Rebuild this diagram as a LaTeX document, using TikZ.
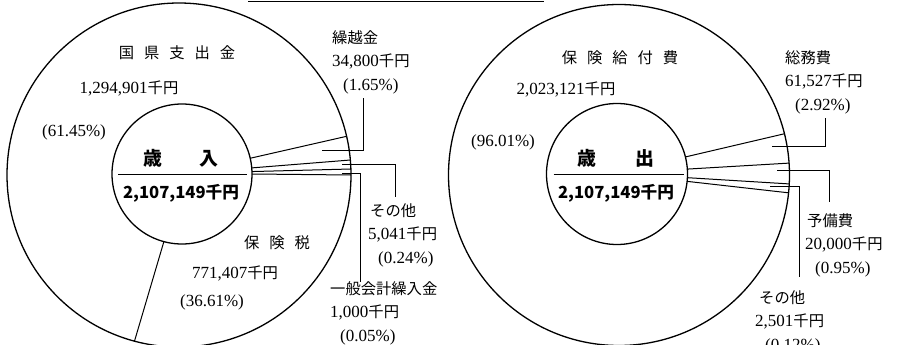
\documentclass[tikz,border=0pt]{standalone}
\usepackage{fontspec}
\setmainfont{Liberation Serif}
\newfontfamily\jp[Scale=0.9]{Noto Sans CJK JP}
\newcommand{\sen}{{\jp 千円}}
\newcommand{\kgap}{\hspace{10pt}}
\newcommand{\lblfont}{\fontsize{17}{23.5}\selectfont}
\newcommand{\ctrfont}{\fontsize{18.5}{24}\selectfont\jp\bfseries}
\tikzset{
	ring/.style={circle, draw, line width=1.3pt, inner sep=0pt, outer sep=0pt},
	rule/.style={line width=1pt},
	seg/.style={font=\lblfont, inner sep=0pt},
	lbl/.style={font=\lblfont, inner sep=1pt, align=left, anchor=north west},
	ctr/.style={font=\ctrfont, inner sep=0pt}
}

\begin{document}
\begin{tikzpicture}[x=1pt, y=-1pt]
		\useasboundingbox (0,0) rectangle (897,345);
		\coordinate (ttlA) at (248,2);
		\coordinate (ttlB) at (544,2);
		\draw[rule] (ttlA) -- (ttlB);

		\node[ring, minimum size=344pt] (outL) at (179,175) {};
		\node[ring, minimum size=140pt] (inL) at (182,174) {};
		\draw[rule]
		(inL.13) -- (outL.13)
		(inL.5) -- (outL.5)
		(inL.2) -- (outL.2)
		(inL.0) -- (outL.0)
		(inL.255) -- (outL.255)
		;
		\node[ctr, font=\fontsize{21}{24}\selectfont\jp\bfseries] (sainyu) at (181,158) {歳\hspace{38pt}入};
		\draw[rule] ([xshift=6pt]inL.west) -- ([xshift=-5pt]inL.east);
		\node[ctr] (sainyuv) at (181,193) {2,107,149千円};
		\node[seg] (kokuL) at (177,53) {\jp 国\kgap 県\kgap 支\kgap 出\kgap 金};
		\node[seg] (kokuLv) at (129,88) {1,294,901\sen};
		\node[seg] (kokuLp) at (74,132) {(61.45\%)};
		\node[seg] (hokenL) at (277,243) {\jp 保\kgap 険\kgap 税};
		\node[seg] (hokenLv) at (235,273) {771,407\sen};
		\node[seg] (hokenLp) at (212,302) {(36.61\%)};

		\node[lbl] (kuriL) at (331,29) {{\jp 繰越金}\\34,800\sen\\\hspace*{11pt}(1.65\%)};
		\node[lbl] (sonoL) at (367,202) {\hspace*{2pt}{\jp その他}\\5,041\sen\\\hspace*{10pt}(0.24\%)};
		\node[lbl] (ippanL) at (329,280) {{\jp 一般会計繰入金}\\1,000\sen\\\hspace*{10pt}(0.05\%)};
		\coordinate (kuriLp) at (322,150);
		\coordinate (sonoLp) at (342,164);
		\coordinate (ippanLp) at (342,173);
		\draw[rule] (kuriLp) -| ([xshift=32pt,yshift=-3pt]kuriL.south west);
		\draw[rule] (sonoLp) -| ([xshift=28pt,yshift=5pt]sonoL.north west);
		\draw[rule] (ippanLp) -| ([xshift=31pt,yshift=-2pt]ippanL.north west);

		\node[ring, minimum size=341pt] (outR) at (619,175) {};
		\node[ring, minimum size=141pt] (inR) at (617,174) {};
		\draw[rule]
		(inR.14) -- (outR.14)
		(inR.4.3) -- (outR.4.3)
		(inR.357.7) -- (outR.357.7)
		(inR.354) -- (outR.354)
		;
		\node[ctr, font=\fontsize{21}{24}\selectfont\jp\bfseries] (saishutsu) at (616,158) {歳\hspace{40pt}出};
		\draw[rule] ([xshift=7pt]inR.west) -- ([xshift=-4pt]inR.east);
		\node[ctr] (saishutsuv) at (616,193) {2,107,149千円};
		\node[seg] (kyufuR) at (620,58) {\jp 保\kgap 険\kgap 給\kgap 付\kgap 費};
		\node[seg] (kyufuRv) at (566,89) {2,023,121\sen};
		\node[seg] (kyufuRp) at (503,142) {(96.01\%)};

		\node[lbl] (somuR) at (784,49) {{\jp 総務費}\\61,527\sen\\\hspace*{10pt}(2.92\%)};
		\node[lbl] (yobiR) at (804,212) {\hspace*{2pt}{\jp 予備費}\\20,000\sen\\\hspace*{10pt}(0.95\%)};
		\node[lbl] (sonoR) at (754,289) {\hspace*{4pt}{\jp その他}\\2,501\sen\\\hspace*{10pt}(0.12\%)};
		\coordinate (somuRp) at (772,146);
		\coordinate (yobiRp) at (777,170);
		\coordinate (sonoRp) at (770,186);
		\draw[rule] (somuRp) -| ([xshift=41pt,yshift=-3pt]somuR.south west);
		\draw[rule] (yobiRp) -| ([xshift=25pt,yshift=10pt]yobiR.north west);
		\draw[rule] (sonoRp) -| ([xshift=45pt,yshift=12pt]sonoR.north west);
	\end{tikzpicture}
\end{document}
